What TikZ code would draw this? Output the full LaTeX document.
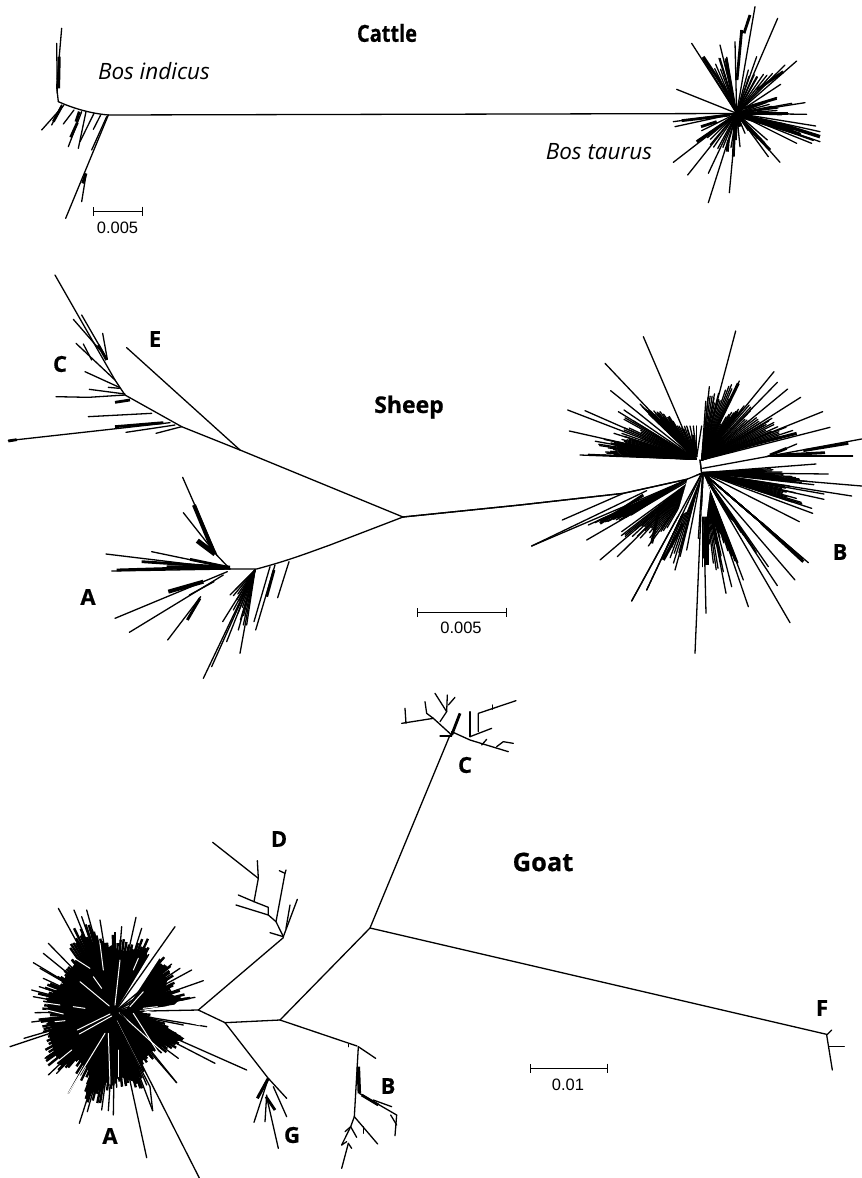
\documentclass[tikz,border=0pt]{standalone}
\usepackage{fontspec}
\setmainfont{Open Sans}[BoldFeatures={FakeBold=0.6}]
\newfontfamily\barfont{Liberation Sans}
\usetikzlibrary{arrows.meta}
\tikzset{
  br/.style={line width=1.3pt,black,line cap=round,line join=round},
  bk/.style={line width=2.8pt,black,line cap=butt,line join=round},
  wh/.style={line width=1pt,white,line cap=round},
  clade/.style={font=\bfseries\fontsize{22}{24}\selectfont,inner sep=0pt},
  spec/.style={font=\itshape\fontsize{22.5}{26}\selectfont,inner sep=0pt},
  sbl/.style={font=\barfont\fontsize{16.5}{18}\selectfont,inner sep=0pt},
  sbar/.style={line width=.9pt,{Bar[width=9pt,line width=.9pt]}-{Bar[width=9pt,line width=.9pt]}},
  zoomed/.style={x=.33333pt,y=-.33333pt}
}
% rays from a centre to listed tips
\newcommand\rays[3]{\foreach \pa/\pb in {#3} {\draw[br] (#1,#2)--(\pa,\pb);}}
% fan of rays: centre, tip 1, tip 2, count, least length fraction
\newcommand\fanrays[8]{%
  \foreach \i in {0,...,#7} {%
    \pgfmathsetmacro\ftx{#3+(#5-#3)*\i/#7}%
    \pgfmathsetmacro\fty{#4+(#6-#4)*\i/#7}%
    \pgfmathsetmacro\ff{#8+(1-#8)*rnd}%
    \draw[br] (#1,#2)--({#1+(\ftx-#1)*\ff},{#2+(\fty-#2)*\ff});
  }}
\begin{document}
\begin{tikzpicture}[x=1pt,y=-1pt]
\pgfmathsetseed{7}
\useasboundingbox (0,0) rectangle (862,1178);
\fill[white] (0,0) rectangle (862,1178);

% ---------- texts
\node[clade,font=\bfseries\fontsize{23.5}{26}\selectfont,xscale=.85,transform shape] (tcattle) at (387,33) {Cattle};
\node[clade,font=\bfseries\fontsize{23}{24}\selectfont] (tsheep) at (409,407) {Sheep};
\node[clade,font=\bfseries\fontsize{25.5}{26}\selectfont] (tgoat) at (543,862) {Goat};
\node[spec] (bi) at (154,71) {Bos indicus};
\node[spec] (bt) at (599,152) {Bos taurus};
\node[clade] (lc1) at (60,364) {C};
\node[clade] (le1) at (155,339) {E};
\node[clade] (la1) at (88,597) {A};
\node[clade] (lb1) at (840,552) {B};
\node[clade] (lc2) at (465,765) {C};
\node[clade] (ld2) at (279,839) {D};
\node[clade] (lf2) at (822,1008) {F};
\node[clade] (la2) at (110,1136) {A};
\node[clade] (lb2) at (388,1086) {B};
\node[clade] (lg2) at (292,1135) {G};

% ---------- scale bars
\coordinate (s1a) at (93,211); \coordinate (s1b) at (142.5,211);
\coordinate (s2a) at (417,612); \coordinate (s2b) at (507,612);
\coordinate (s3a) at (530,1068); \coordinate (s3b) at (608,1068);
\draw[sbar] (s1a)--(s1b);
\draw[sbar] (s2a)--(s2b);
\draw[sbar] (s3a)--(s3b);
\node[sbl] (n1) at (117.5,228) {0.005};
\node[sbl] (n2) at (461,628) {0.005};
\node[sbl] (n3) at (568,1085) {0.01};

% ========== CATTLE
\draw[br] (108,115)--(737,113.5);
\begin{scope}[shift={(0,0)},zoomed]
  \draw[br] (325,345)..controls (270,340) and (220,325)..(175,305);
  \draw[br] (175,305)--(170,260)--(185,85);
  \draw[br] (172,280)--(170,130);
  \draw[bk] (176,265)--(178,170);
  \draw[br] (192,315)--(125,390);
  \draw[br] (185,315)--(155,375);
  \draw[bk] (186,318)--(160,365);
  \draw[br] (222,330)--(190,372);
  \draw[br] (245,335)--(205,440);
  \draw[bk] (238,335)--(228,365);
  \draw[bk] (232,368)--(212,412);
  \draw[br] (258,335)--(235,445);
  \draw[br] (282,340)--(240,425);
  \draw[br] (302,345)--(280,388);
  \draw[br] (325,345)--(197,655);
  \draw[br] (320,350)--(275,450);
  \draw[bk] (258,520)--(248,550);
  \draw[br] (258,525)--(245,605);
\end{scope}
\begin{scope}[shift={(640,0)},zoomed]
  \rays{290}{340}{345/20,413/55,470/183,155/130,240/135,110/268,495/308,500/343,527/378,515/430,470/430,420/487,385/470,205/608,268/578,205/520,143/525,100/487,105/380,100/365,185/392,285/125,237/175,325/210,350/230,435/195,422/253,410/293,455/310,445/340,382/420,315/400,300/440,540/395,540/425,350/170}
  \fanrays{290}{340}{185}{170}{260}{170}{7}{.75}
  \fanrays{290}{340}{330}{220}{425}{205}{6}{.8}
  \fanrays{290}{340}{400}{300}{450}{345}{6}{.8}
  \fanrays{290}{340}{440}{375}{530}{425}{9}{.8}
  \fanrays{290}{340}{330}{400}{390}{445}{5}{.8}
  \fanrays{290}{340}{170}{425}{270}{460}{8}{.75}
  \draw[bk] (305,90)--(291,240);
  \draw[bk] (190,170)--(270,290);
  \draw[bk] (258,175)--(280,310);
  \draw[bk] (330,45)--(312,100);
  \draw[bk] (350,270)--(430,215);
  \draw[bk] (310,325)--(410,295);
  \draw[bk] (310,340)--(445,340);
  \draw[bk] (400,372)--(470,400);
  \draw[line width=3.5pt] (420,372)--(540,410);
  \draw[bk] (300,350)--(470,400);
  \draw[bk] (300,355)--(390,450);
  \draw[bk] (285,350)--(280,470);
  \draw[line width=3.5pt] (290,345)--(285,420);
  \draw[bk] (280,350)--(170,425);
  \draw[bk] (270,345)--(125,362);
  \draw[bk] (230,365)--(183,380);
  \draw[bk] (265,420)--(262,455);
  \draw[line width=4pt] (290,345)--(300,380);
\end{scope}

% ========== SHEEP
\draw[br] (240,450)--(403,517);
\begin{scope}[shift={(0,270)},zoomed]
  \draw[br] (720,540)--(380,233);
  \draw[br] (720,540)--(545,470)--(375,375)--(345,330)--(165,15);
  \draw[br] (320,265)--(245,135);
  \draw[br] (300,240)--(220,148);
  \draw[br] (322,268)--(308,190);
  \draw[bk] (320,270)--(295,225);
  \draw[br] (345,330)--(228,220);
  \draw[br] (275,270)--(250,222);
  \draw[br] (358,352)--(255,305);
  \draw[br] (358,355)--(325,352);
  \draw[br] (375,375)--(265,382)--(168,380);
  \draw[br] (375,372)--(268,358);
  \draw[bk] (390,390)--(345,397);
  \draw[br] (455,430)--(265,440);
  \draw[br] (510,458)--(25,512);
  \draw[bk] (345,470)--(490,458);
  \draw[bk] (25,513)--(50,509);
  \draw[br] (525,465)--(378,487);
  \draw[br] (545,470)--(468,490);
\end{scope}
\begin{scope}[shift={(90,470)},zoomed]
  \draw[br] (939,141)--(720,225)..controls (650,250) and (600,270)..(500,297)--(420,297);
  \draw[br] (420,297)--(380,255)--(278,22);
  \draw[line width=4pt] (312,105)--(370,245);
  \draw[br] (380,255)--(280,128);
  \draw[line width=5pt] (322,212)--(375,252);
  \draw[br] (420,297)--(48,252);
  \draw[br] (305,270)--(185,245);
  \draw[bk] (415,292)--(155,275);
  \draw[bk] (415,292)--(300,268);
  \draw[br] (420,297)--(65,303);
  \draw[bk] (350,292)--(80,300);
  \draw[line width=4pt] (420,293)--(230,292);
  \draw[br] (412,305)--(75,445);
  \draw[line width=4pt] (235,365)--(340,335);
  \draw[br] (400,315)--(118,487);
  \draw[br] (372,335)--(298,375);
  \draw[br] (332,380)--(233,510);
  \draw[bk] (330,385)--(292,450);
  \rays{495}{300}{340/625,365/590,410/515,450/550,398/455,420/375,430/420,460/465,470/465,445/480}
  \fanrays{495}{300}{420}{375}{455}{460}{9}{.75}
  \draw[br] (540,290)--(492,455);
  \draw[br] (555,285)--(497,480);
  \draw[bk] (552,300)--(530,380);
  \draw[br] (597,275)--(563,383);
\end{scope}
\begin{scope}[shift={(520,320)},zoomed]
  \draw[br] (-351,591)--(0,555)--(310,520)--(500,478)--(545,460)--(540,420);
  % upper left
  \rays{528}{418}{370/50,255/130,272/212,143/270,195/272,148/333,180/405,205/403,295/275,312/270,360/252,420/275}
  \fanrays{528}{418}{358}{255}{440}{285}{16}{.8}
  \fanrays{528}{418}{295}{275}{300}{345}{10}{.7}
  \fanrays{528}{418}{282}{340}{260}{382}{12}{.8}
  \fanrays{528}{418}{215}{350}{205}{403}{14}{.75}
  \fanrays{528}{418}{430}{290}{500}{320}{10}{.85}
  \rays{530}{410}{500/318,510/318,520/318,530/318,545/318}
  \draw[line width=4pt] (522,410)--(520,345);
  \draw[line width=3pt] (520,410)--(445,290);
  % upper right
  \rays{545}{420}{647/33,568/200,582/235,658/183,762/155,772/187,803/207,842/232,908/275,930/322}
  \fanrays{545}{420}{560}{205}{658}{183}{14}{.75}
  \fanrays{545}{420}{600}{300}{690}{235}{12}{.75}
  \fanrays{545}{420}{690}{240}{770}{295}{12}{.75}
  \fanrays{545}{420}{760}{295}{832}{338}{12}{.8}
  \draw[line width=3pt] (575,405)--(830,340);
  \draw[line width=4pt] (560,400)--(560,320);
  \draw[line width=3pt] (555,395)--(655,190);
  % right
  \draw[br] (548,445)--(750,408)--(1025,357);
  \draw[bk] (850,392)--(985,370);
  \draw[br] (750,408)--(998,408);
  \draw[br] (740,410)--(830,372);
  \draw[bk] (750,405)--(800,385);
  \draw[bk] (780,405)--(915,398);
  % lower right
  \rays{548}{458}{888/432,925/462,1025/498,995/528,912/522,912/538,875/565,878/580,838/605,865/728,825/780,810/908,772/797,745/740,685/860,670/780,635/800,618/820,558/880,548/740,610/755,535/655}
  \fanrays{548}{458}{770}{445}{890}{495}{14}{.85}
  \fanrays{548}{458}{820}{500}{860}{560}{12}{.8}
  \fanrays{548}{458}{725}{610}{860}{725}{18}{.7}
  \draw[line width=3pt] (725,610)--(850,725);
  \fanrays{548}{458}{560}{590}{670}{770}{22}{.85}
  \fanrays{548}{458}{550}{740}{615}{760}{10}{.7}
  \fanrays{548}{458}{620}{580}{725}{720}{14}{.8}
  \draw[line width=4pt] (560,590)--(560,735);
  % lower left
  \rays{545}{460}{35/678,200/660,205/615,240/720,292/710,305/635,385/678,335/843,380/810,465/750,425/718,500/690,515/565}
  \draw[br] (380,512)--(35,678);
  \draw[br] (310,520)--(127,600);
  \fanrays{500}{480}{205}{615}{310}{600}{14}{.85}
  \draw[line width=3pt] (370,525)--(240,610);
  \fanrays{530}{470}{300}{650}{420}{660}{18}{.8}
  \draw[line width=3pt] (420,555)--(395,670);
  \draw[line width=3pt] (490,610)--(430,720);
  \fanrays{540}{470}{425}{715}{470}{750}{7}{.8}
  \fill[white] (505,470)--(545,462)--(500,575)--(470,590)--cycle;
  \fill[white] (552,465)--(545,590)--(560,590)--(570,510)--cycle;
  \draw[br] (545,460)--(335,843);
  \draw[br] (545,460)--(380,810);
  \draw[br] (548,458)--(525,1000);
  \draw[br] (-351,591)--(0,555)--(310,520)--(500,478)--(545,460)--(540,420);
  \draw[br] (548,458)--(615,560);
\end{scope}

% ========== GOAT
\begin{scope}[shift={(0,890)},zoomed]
  % trunk to the rest of the tree
  \draw[br] (345,365)--(595,360);
  \draw[br] (595,360)--(850,143);
  \draw[br] (595,360)--(675,398);
  \draw[br] (675,398)--(840,390);
  \draw[br] (840,390)--(1110,114);
  \draw[br] (1110,114)--(1350,-465);
  \draw[br] (1110,114)--(2480,433);
  \draw[br] (840,390)--(1071,468);
  \draw[br] (675,398)--(804,564);
  % dense mass: a core and a thick bristle of rays
  \begin{scope}[shift={(345,365)},scale=.85,shift={(-345,-365)}]
    \fill[black] (225,90)--(265,120)--(300,150)--(335,130)--(360,150)--(395,150)--(450,145)--(462,170)--(470,200)--(510,195)--(505,220)--(530,250)--(520,290)--(575,320)--(555,340)--(430,360)--(560,440)--(590,460)--(540,480)--(500,490)--(455,520)--(440,540)--(410,590)--(430,620)--(380,600)--(340,590)--(310,620)--(290,640)--(250,660)--(240,670)--(255,600)--(250,570)--(210,530)--(160,545)--(130,510)--(110,440)--(130,420)--(150,380)--(110,370)--(105,320)--(160,270)--(170,240)--(200,200)--(210,180)--(240,150)--cycle;
  \end{scope}
  \begin{scope}[br/.style={line width=2.4pt,black,line cap=butt}]
    \foreach \xa/\ya/\xb/\yb in {210/110/265/100,265/100/305/140,305/140/345/125,345/125/400/150,400/150/455/140,455/140/470/200,490/195/515/225,515/225/530/250,530/250/525/290,525/290/580/322,580/322/500/345,
      460/375/590/460,590/460/540/490,540/490/470/520,470/520/440/560,440/560/430/620,430/620/380/600,380/600/340/590,340/590/300/640,300/640/245/670,245/670/255/600,255/600/210/535,210/535/150/550,150/550/130/510,130/510/110/440,110/440/125/410,125/410/105/390,105/390/105/320,105/320/125/290,125/290/160/265,160/265/170/235,170/235/200/190,200/190/210/110}
      {\fanrays{345}{365}{\xa}{\ya}{\xb}{\yb}{6}{.78}}
  \end{scope}
  \fill[white] (350,358)--(462,172)--(478,205)--(378,358)--cycle;
  % spikes round the mass
  \rays{345}{365}{175/55,222/60,245/80,260/60,300/90,365/110,408/82,425/115,525/110,100/218,145/160,130/190,120/235,130/265,150/250,95/300,118/290,100/320,105/368,95/396,72/445,30/470,135/505,145/555,170/550,205/610,238/700,262/665,305/660,325/662,340/675,440/803,598/864,458/662,440/585,530/578,535/505,645/520,740/540,620/410,550/405,610/272,575/240,540/235,515/222,585/322,350/592,330/585}
  % pale streaks inside the mass
  \draw[wh] (240,275)--(328,348);
  \draw[wh] (345,345)--(360,210);
  \draw[wh] (330,372)--(232,420);
  \draw[wh] (335,378)--(238,432);
  \draw[wh] (315,430)--(205,610);
  \draw[wh] (325,430)--(330,582);
  \draw[wh] (350,392)--(420,530);
  \draw[wh] (358,368)--(520,515);
  \draw[wh] (400,370)--(530,575);
  \draw[wh] (435,362)--(600,405);
  \draw[wh] (390,350)--(430,305);
  \draw[wh] (220,350)--(255,355);
  \draw[wh] (430,355)--(472,350);
  \draw[wh] (280,260)--(305,295);
  \draw[wh] (300,160)--(310,240);
  \draw[wh] (400,240)--(415,205);
  \draw[wh] (140,360)--(190,372);
  \draw[wh] (110,335)--(180,345);
  \draw[wh] (165,395)--(195,392);
  \draw[wh] (160,525)--(215,480);
  \draw[wh] (355,480)--(355,560);
  \draw[wh] (200,190)--(270,235);
  \draw[br] (345,385)--(450,590)--(458,662);
  \draw[br] (360,368)--(530,578);
\end{scope}
\begin{scope}[shift={(390,680)},zoomed]
  \draw[br] (185,165)--(130,115)--(35,130);
  \draw[br] (45,85)--(48,130);
  \draw[br] (130,115)--(110,100)--(105,65);
  \draw[br] (150,125)--(170,95)--(135,40);
  \draw[br] (170,95)--(172,45);
  \draw[br] (175,75)--(195,52);
  \draw[bk] (185,165)--(210,100);
  \draw[br] (150,168)--(185,168);
  \draw[br] (185,155)--(240,180)--(355,215);
  \draw[br] (240,170)--(240,95);
  \draw[br] (240,170)--(305,145);
  \draw[br] (265,155)--(265,100)--(378,62);
  \draw[br] (308,88)--(308,75);
  \draw[br] (275,195)--(290,178);
  \draw[br] (320,200)--(340,185)--(370,190);
\end{scope}
\begin{scope}[shift={(200,820)},zoomed]
  \draw[br] (250,350)--(228,305)--(205,285)--(108,255);
  \draw[br] (210,338)--(250,350);
  \draw[br] (205,285)--(205,262)--(162,245)--(115,225);
  \draw[br] (162,245)--(175,175)--(172,122);
  \draw[br] (175,175)--(38,67);
  \draw[br] (228,305)--(255,160)--(238,152);
  \draw[br] (255,160)--(258,150);
  \draw[br] (250,350)--(292,238);
  \draw[br] (258,325)--(270,255);
\end{scope}
\begin{scope}[shift={(230,1020)},zoomed]
  % G
  \draw[br] (115,175)--(170,235);
  \draw[br] (115,175)--(72,307);
  \draw[line width=3pt] (115,175)--(82,235);
  \draw[br] (130,200)--(170,290);
  \draw[br] (110,225)--(105,305);
  \draw[bk] (108,230)--(135,270);
  \draw[br] (112,240)--(145,385);
  % B
  \draw[br] (385,80)--(437,115);
  \draw[br] (355,72)--(355,80);
  \draw[br] (385,80)--(373,290);
  \draw[line width=3.5pt] (385,140)--(388,220);
  \draw[br] (373,290)--(362,320)--(345,335);
  \draw[br] (362,320)--(380,352);
  \draw[br] (362,320)--(335,375);
  \draw[br] (335,375)--(350,365);
  \draw[br] (355,370)--(335,445);
  \draw[br] (355,370)--(365,385);
  \draw[br] (373,290)--(443,372);
  \draw[br] (400,320)--(400,340);
  \draw[bk] (395,225)--(445,255);
  \draw[br] (430,240)--(485,260);
  \draw[br] (388,220)--(500,285)--(495,347);
  \draw[br] (482,285)--(500,315);
\end{scope}
\begin{scope}[shift={(780,990)},zoomed]
  \draw[br] (140,135)--(155,120);
  \draw[br] (140,135)--(157,240);
  \draw[br] (148,170)--(193,170);
\end{scope}
\end{tikzpicture}
\end{document}
